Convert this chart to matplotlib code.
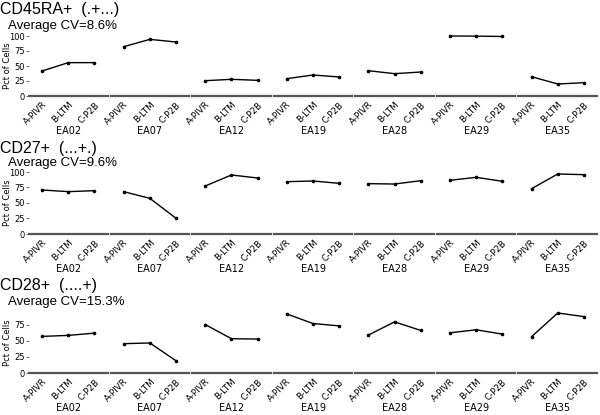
# -*- coding: utf-8 -*-
import matplotlib
matplotlib.use('Agg')
import matplotlib.pyplot as plt
import matplotlib.transforms as mtransforms

# 数据: 每个标记在三个时间点 (A/B/C) 的细胞百分比
donors = ['EA02', 'EA07', 'EA12', 'EA19', 'EA28', 'EA29', 'EA35']
timepoints = ['A-PIVR', 'B-LTM', 'C-P2B']

markers = ['CD45RA+  (.+...)', 'CD27+  (...+.)', 'CD28+  (....+)']
avg_cv = ['8.6%', '9.6%', '15.3%']

cd45ra = [[41.7, 55.6, 55.6], [82.2, 94.4, 90.0], [25.5, 27.8, 26.1],
          [28.9, 35.0, 31.7], [42.2, 37.2, 40.0], [100.0, 99.8, 99.2],
          [32.2, 20.0, 22.2]]
cd27 = [[71.0, 68.3, 69.9], [68.3, 57.5, 25.3], [77.4, 95.2, 90.3],
        [84.4, 85.5, 81.7], [81.2, 80.6, 86.0], [86.6, 91.4, 85.0],
        [73.0, 96.8, 95.7]]
cd28 = [[56.9, 58.5, 62.0], [45.6, 46.7, 19.0], [75.4, 53.3, 52.8],
        [91.8, 76.9, 73.3], [59.0, 79.5, 66.2], [62.5, 67.2, 60.5],
        [56.4, 93.3, 87.7]]
all_data = [cd45ra, cd27, cd28]

W, H = 600.0, 415.0
fig = plt.figure(figsize=(6, 4.15), dpi=100)

# 每行的像素位置 (顶部, 底部), 标题基线位置
row_px = [(36, 96), (172, 234), (313, 373)]
title_px = [(14, 29), (153, 166), (290, 305)]
left_px, right_px, gap_px = 29, 597, 3
n = len(donors)
panel_w = (right_px - left_px - gap_px * (n - 1)) / n
tfont = ['Liberation Sans', 'DejaVu Sans']
shift = mtransforms.ScaledTranslation(3.0 / 100, 0, fig.dpi_scale_trans)

for r, data in enumerate(all_data):
    top, bot = row_px[r]
    ymax = max(max(v) for v in data)
    if ymax > 95:
        ymax = 100.0
    fig.text(0 / W, 1 - title_px[r][0] / H, markers[r], fontsize=11.5,
             va='baseline', ha='left', family=tfont)
    fig.text(8 / W, 1 - title_px[r][1] / H, 'Average CV=' + avg_cv[r], fontsize=9.5,
             va='baseline', ha='left', family=tfont)
    for i, d in enumerate(donors):
        x0 = left_px + i * (panel_w + gap_px)
        ax = fig.add_axes([x0 / W, 1 - bot / H, panel_w / W, (bot - top) / H])
        xs = [1, 2, 3]
        ax.plot(xs, data[i], color='black', lw=1, marker='o', ms=1.6, clip_on=False)
        ax.set_xlim(0.5, 3.5)
        ax.set_ylim(0, ymax)
        for s in ['top', 'right', 'left']:
            ax.spines[s].set_visible(False)
        ax.spines['bottom'].set_color('#555555')
        ax.spines['bottom'].set_linewidth(1.6)
        ax.set_xticks(xs)
        ax.set_xticklabels(timepoints, rotation=45, ha='right', rotation_mode='anchor', fontsize=6.3)
        for lab in ax.get_xticklabels():
            lab.set_transform(lab.get_transform() + shift)
        ax.tick_params(axis='x', length=0, pad=3)
        ax.set_xlabel(d, fontsize=7, va='center')
        ax.xaxis.set_label_coords(0.5, -35.0 / (bot - top))
        ax.patch.set_alpha(0)
        if i == 0:
            ticks = [t for t in [0, 25, 50, 75, 100] if t <= ymax]
            ax.set_yticks(ticks)
            ax.tick_params(axis='y', length=2.2, width=0.6, pad=0.8, labelsize=6, color='#555555')
            ax.set_ylabel('Pct of Cells', fontsize=6, va='center')
            ax.yaxis.set_label_coords(-21.0 / panel_w, 0.5)
        else:
            ax.set_yticks([])

plt.savefig('out.png', dpi=100)
plt.close('all')
